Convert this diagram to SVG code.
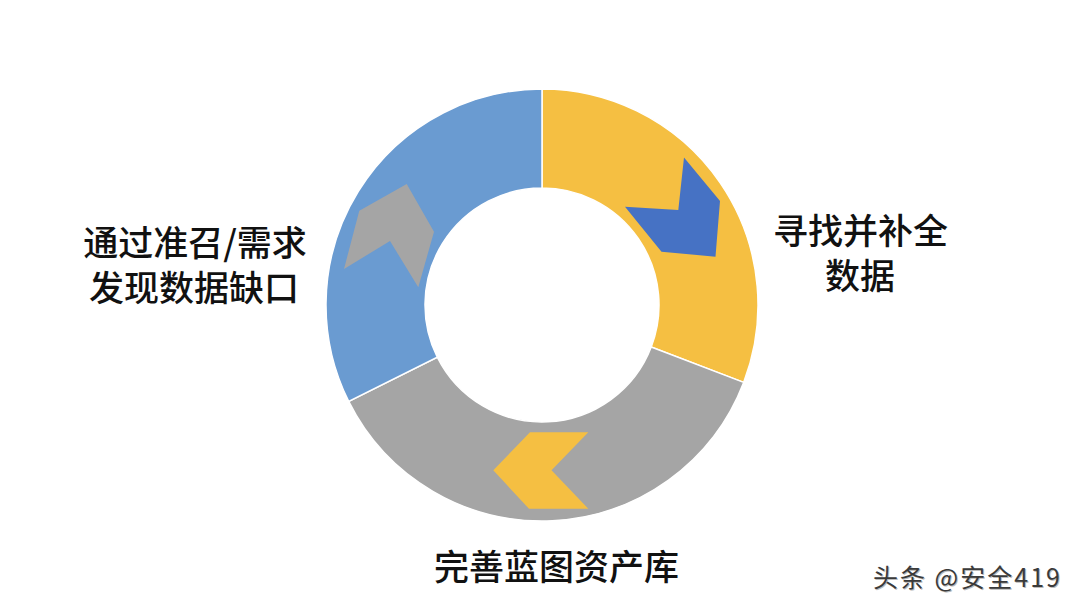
<svg xmlns="http://www.w3.org/2000/svg" width="1080" height="614" viewBox="0 0 1080 614">
  <style>
    .seg { stroke: #ffffff; stroke-width: 1.5; stroke-linejoin: miter; }
    .lbl { font-family: "Noto Sans CJK SC", "Noto Sans", sans-serif; font-size: 35px; font-weight: 500; fill: #111111; text-anchor: middle; }
    .wm { font-family: "Noto Sans CJK SC", "Noto Sans", sans-serif; font-size: 25px; letter-spacing: 2px; }
  </style>
  <rect width="1080" height="614" fill="#ffffff"/>
  <g id="donut">
    <g id="seg-find">
      <path class="seg" fill="#F5BF42" d="M542,89 A216,216 0 0 1 743.65,382.41 L651.23,346.93 A117,117 0 0 0 542,188 Z"/>
      <polygon fill="#4672C4" points="684,157.5 720,201 715.5,256.7 661.5,251.7 625,206.7 678.3,210"/>
    </g>
    <g id="seg-complete">
      <path class="seg" fill="#A5A5A5" d="M743.65,382.41 A216,216 0 0 1 348.7,401.38 L437.29,357.21 A117,117 0 0 0 651.23,346.93 Z"/>
      <polygon fill="#F5BF42" points="530,432.2 588.3,432.2 551.5,470.3 588.3,508.8 529,508.8 493.3,470.3"/>
    </g>
    <g id="seg-discover">
      <path class="seg" fill="#6A9BD1" d="M348.7,401.38 A216,216 0 0 1 542,89 L542,188 A117,117 0 0 0 437.29,357.21 Z"/>
      <polygon fill="#A5A5A5" points="406.7,184 434,231.7 418.3,287.3 390,241 344,269 359.3,210.7"/>
    </g>
  </g>
  <g id="label-discover">
    <text class="lbl" x="195" y="256">通过准召/需求</text>
    <text class="lbl" x="194" y="301">发现数据缺口</text>
  </g>
  <g id="label-find">
    <text class="lbl" x="860.5" y="244">寻找并补全</text>
    <text class="lbl" x="860" y="289">数据</text>
  </g>
  <g id="label-complete">
    <text class="lbl" x="556.5" y="580">完善蓝图资产库</text>
  </g>
  <g id="watermark">
    <text class="wm" x="874" y="588" fill="#bbbbbb">头条 @安全419</text>
    <text class="wm" x="873" y="587" fill="#3a3a3a">头条 @安全419</text>
  </g>
</svg>
